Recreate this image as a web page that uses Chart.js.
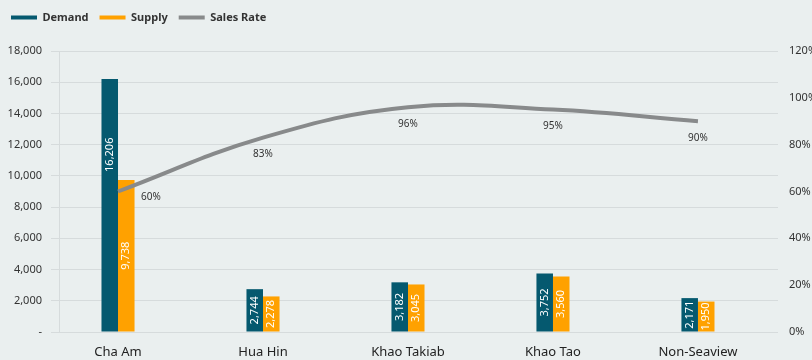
<!DOCTYPE html>
<html>
<head>
<meta charset="utf-8">
<script src="https://cdn.jsdelivr.net/npm/chart.js@4.4.1/dist/chart.umd.min.js"></script>
<style>
  html, body { margin: 0; padding: 0; background: #eaefef; }
  #wrap { width: 812px; height: 360px; }
</style>
</head>
<body>
<div id="wrap"><canvas id="area-summary-canvas" width="812" height="360"></canvas></div>
<script>
// demand / supply per area, sales rate on the right axis
const areas = ['Cha Am', 'Hua Hin', 'Khao Takiab', 'Khao Tao', 'Non-Seaview'];
const demand = [16206, 2744, 3182, 3752, 2171];
const supply = [9738, 2278, 3045, 3560, 1950];
const salesRate = [60, 83, 96, 95, 90]; // %
const unitTicks = [0, 2000, 4000, 6000, 8000, 10000, 12000, 14000, 16000, 18000];
const rateTicks = [0, 20, 40, 60, 80, 100, 120];

const gridColor = '#d6dbdc';
const textColor = '#333';

Chart.defaults.font.family = '"Noto Sans", sans-serif';

// push the plot area down a bit under the legend
const legendGap = {
  id: 'legendGap',
  beforeInit(chart) {
    if (!chart.legend) return;
    const fit = chart.legend.fit;
    chart.legend.fit = function () {
      fit.call(this);
      this.height += 18;
    };
  },
};

// value labels: rotated inside the bars, percentages near the line
const valueLabels = {
  id: 'valueLabels',
  afterDatasetsDraw(chart) {
    const ctx = chart.ctx;
    chart.data.datasets.forEach((ds, i) => {
      const meta = chart.getDatasetMeta(i);
      meta.data.forEach((el, j) => {
        const value = ds.data[j].y;
        ctx.save();
        if (meta.type === 'bar') {
          const at = ds.labelAt ? ds.labelAt[j] : 0.5;
          const y = el.base + (el.y - el.base) * at;
          ctx.translate(el.x, y);
          ctx.rotate(-Math.PI / 2);
          ctx.fillStyle = '#fff';
          ctx.font = '11px "Noto Sans"';
          ctx.textAlign = 'center';
          ctx.textBaseline = 'middle';
          ctx.fillText(value.toLocaleString('en-US'), 0, 0);
        } else {
          const pos = ds.labelPos ? ds.labelPos[j] : 'below';
          ctx.fillStyle = textColor;
          ctx.font = '10px "Noto Sans"';
          ctx.textBaseline = 'middle';
          if (pos === 'right') {
            ctx.textAlign = 'left';
            ctx.fillText(value + '%', el.x + 23, el.y + 6);
          } else {
            ctx.textAlign = 'center';
            ctx.fillText(value + '%', el.x, el.y + 17);
          }
        }
        ctx.restore();
      });
    });
  },
};

function generateAreaChart() {
  const ctx = document.getElementById('area-summary-canvas').getContext('2d');

  const areaChart = new Chart(ctx, {
    type: 'bar',
    data: {
      datasets: [
        {
          label: 'Demand',
          data: demand.map((v, i) => ({ x: i, y: v })),
          backgroundColor: '#05596f',
          categoryPercentage: 0.228,
          barPercentage: 1,
          yAxisID: 'y',
          order: 1,
          labelAt: [0.7, 0.5, 0.5, 0.5, 0.5],
        },
        {
          label: 'Supply',
          data: supply.map((v, i) => ({ x: i, y: v })),
          backgroundColor: '#ffa100',
          categoryPercentage: 0.228,
          barPercentage: 1,
          yAxisID: 'y',
          order: 1,
        },
        {
          type: 'line',
          label: 'Sales Rate',
          data: salesRate.map((v, i) => ({ x: i, y: v })),
          borderColor: '#888a8b',
          backgroundColor: '#888a8b',
          borderWidth: 4,
          pointRadius: 0,
          tension: 0.4,
          fill: false,
          yAxisID: 'y1',
          order: 0,
          labelPos: ['right', 'below', 'below', 'below', 'below'],
        },
      ],
    },
    options: {
      responsive: false,
      animation: false,
      layout: {
        padding: { top: 1, left: 0, right: 0, bottom: 0 },
      },
      scales: {
        x: {
          type: 'linear',
          offset: false,
          min: -0.407,
          max: 4.552,
          afterBuildTicks: (scale) => {
            scale.ticks = areas.map((_, i) => ({ value: i }));
          },
          afterFit: (scale) => {
            scale.height = 28;
          },
          ticks: {
            autoSkip: false,
            maxRotation: 0,
            padding: 12,
            color: '#222',
            font: { size: 13 },
            callback: (v) => areas[v],
          },
          grid: { display: false, drawTicks: false, offset: false },
          border: { display: false },
        },
        y: {
          position: 'left',
          min: unitTicks[0],
          max: unitTicks[unitTicks.length - 1],
          afterBuildTicks: (scale) => {
            scale.ticks = unitTicks.map((v) => ({ value: v }));
          },
          afterFit: (scale) => {
            scale.width = 59;
          },
          ticks: {
            padding: 9,
            color: textColor,
            font: { size: 11 },
            callback: (v) => (v === 0 ? '-' : v.toLocaleString('en-US')),
          },
          grid: {
            color: gridColor,
            tickColor: gridColor,
            tickLength: 8,
          },
          border: { display: true, color: gridColor },
        },
        y1: {
          position: 'right',
          min: rateTicks[0],
          max: rateTicks[rateTicks.length - 1],
          afterBuildTicks: (scale) => {
            scale.ticks = rateTicks.map((v) => ({ value: v }));
          },
          afterFit: (scale) => {
            scale.width = 34;
          },
          ticks: {
            padding: 11,
            color: textColor,
            font: { size: 11 },
            callback: (v) => v + '%',
          },
          grid: { display: false, drawTicks: false },
          border: { display: false },
        },
      },
      plugins: {
        legend: {
          display: true,
          position: 'top',
          align: 'start',
          labels: {
            boxWidth: 26,
            boxHeight: 4,
            padding: 11,
            color: textColor,
            font: { size: 11, weight: 'bold' },
            sort: (a, b) => a.datasetIndex - b.datasetIndex,
            generateLabels: (chart) => {
              const items = Chart.defaults.plugins.legend.labels.generateLabels(chart);
              return items.map((item) => {
                item.lineWidth = 0;
                return item;
              });
            },
          },
        },
        tooltip: { enabled: false },
      },
    },
    plugins: [legendGap, valueLabels],
  });
}

generateAreaChart();
</script>
</body>
</html>
